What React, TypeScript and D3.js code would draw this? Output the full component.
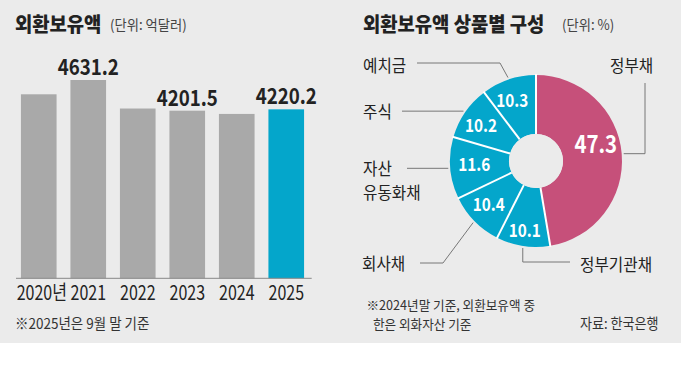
import React from 'react';
import * as d3 from 'd3';

// ---- Data ----
const years = ['2020', '2021', '2022', '2023', '2024', '2025'];
const reserves = [4431.0, 4631.2, 4231.6, 4201.5, 4156.0, 4220.2];
const barLabels: (string | null)[] = [null, '4631.2', null, '4201.5', null, '4220.2'];
const highlightYear = '2025';

const categories = ['정부채', '정부기관채', '회사채', '자산유동화채', '주식', '예치금'];
const shares = [47.3, 10.1, 10.4, 11.6, 10.2, 10.3];
const shareLabels = ['47.3', '10.1', '10.4', '11.6', '10.2', '10.3'];
const categoryLines = [['정부채'], ['정부기관채'], ['회사채'], ['자산', '유동화채'], ['주식'], ['예치금']];

const FONT = "'Noto Sans CJK KR', 'Noto Sans', sans-serif";
const BG = '#ebebeb';
const GRAY_BAR = '#a9a9a9';
const TEAL = '#04a6cb';
const PINK = '#c6507a';
const TEXT = '#222';
const LINE = '#777';

type TProps = {
  x: number; y: number; sx?: number; anchor?: string; size: number;
  weight?: number; fill?: string; children: React.ReactNode;
};
function T({ x, y, sx = 1, anchor = 'start', size, weight = 400, fill = TEXT, children }: TProps) {
  return (
    <text
      transform={`translate(${x},${y}) scale(${sx},1)`}
      textAnchor={anchor as any}
      fontSize={size}
      fontWeight={weight}
      fill={fill}
      fontFamily={FONT}
    >
      {children}
    </text>
  );
}

// label layout for the donut (text positions & leader bends)
const catLayout = [
  { tx: 610, ty: 72, path: (s: number[]) => [[s[0], s[1]], [645, s[1]], [645, 83]] },
  { tx: 580, ty: 271, path: (s: number[]) => [[s[0], s[1]], [s[0], 262], [570, 262]] },
  { tx: 362, ty: 270, path: (s: number[]) => [[s[0], s[1]], [443, 263], [420, 263]] },
  { tx: 363, ty: 175, path: (s: number[]) => [[s[0], s[1]], [407, s[1]]] },
  { tx: 363, ty: 118, path: (s: number[]) => [[s[0], s[1]], [402, s[1]]] },
  { tx: 363, ty: 72, path: (s: number[]) => [[s[0], s[1]], [500, 63], [417, 63]] },
];
const labelNudge = [[-2, -12], [-2, 8], [-3, 0], [0, -2], [-4, 0], [-4, -2]];

export default function App() {
  // ---- Bar chart ----
  const x = d3.scaleBand<string>().domain(years).range([14, 311]).paddingInner(0.28).paddingOuter(0.14);
  const y = d3.scaleLinear().domain([1854, 4631.2]).range([278.3, 80]);
  const baseY = y(1854);

  // ---- Donut ----
  const cx = 536, cy = 161;
  const R = 86, r0 = 27;
  const pie = d3.pie<number>().sort(null).value((d) => d);
  const arcs = pie(shares);
  const arc = d3.arc<d3.PieArcDatum<number>>().innerRadius(r0).outerRadius(R);
  const labelArc = d3.arc<d3.PieArcDatum<number>>().innerRadius(62).outerRadius(62);
  const leaderArc = d3.arc<d3.PieArcDatum<number>>().innerRadius(88).outerRadius(88);
  const line = d3.line();

  return (
    <svg width={681} height={382} style={{ position: 'absolute', left: 0, top: 0 }}>
      <rect x={0} y={0} width={681} height={382} fill="#fff" />
      <rect x={0} y={0} width={681} height={343} fill={BG} />

      {/* Left title */}
      <T x={15} y={32} size={20} weight={900} sx={0.94}>외환보유액</T>
      <T x={110} y={30} size={14} sx={0.95} fill="#444">(단위: 억달러)</T>

      {/* Bars */}
      {years.map((yr, i) => (
        <rect
          key={yr}
          x={x(yr)}
          y={y(reserves[i])}
          width={x.bandwidth()}
          height={baseY - y(reserves[i])}
          fill={yr === highlightYear ? TEAL : GRAY_BAR}
        />
      ))}
      {years.map((yr, i) =>
        barLabels[i] ? (
          <T key={'l' + yr} x={x(yr)! + x.bandwidth() / 2} y={y(reserves[i]) - 5} size={22} weight={700} sx={0.85} anchor="middle">
            {barLabels[i]}
          </T>
        ) : null
      )}
      <line x1={16} x2={311.7} y1={baseY} y2={baseY} stroke="#888" strokeWidth={1} />
      {years.map((yr, i) => (
        <T key={'t' + yr} x={x(yr)! + x.bandwidth() / 2 + (i === 0 ? 3 : 0)} y={300} size={20} sx={0.8} anchor="middle">
          {i === 0 ? `${yr}년` : yr}
        </T>
      ))}
      <T x={15} y={329} size={15} sx={0.9} fill="#333">※2025년은 9월 말 기준</T>

      {/* Right title */}
      <T x={363} y={32} size={20} weight={900} sx={0.94}>외환보유액 상품별 구성</T>
      <T x={562} y={30} size={14} sx={0.95} fill="#444">(단위: %)</T>

      {/* Donut */}
      <g transform={`translate(${cx},${cy})`}>
        {arcs.map((a, i) => (
          <path key={'a' + i} d={arc(a)!} fill={i === 0 ? PINK : TEAL} />
        ))}
        {arcs.map((a, i) => {
          const ang = a.startAngle;
          return (
            <line
              key={'s' + i}
              x1={r0 * Math.sin(ang)}
              y1={-r0 * Math.cos(ang)}
              x2={(R + 1) * Math.sin(ang)}
              y2={-(R + 1) * Math.cos(ang)}
              stroke="#fff"
              strokeWidth={2}
            />
          );
        })}
        <circle r={r0} fill={BG} />
        {arcs.map((a, i) => {
          const [lx, ly] = labelArc.centroid(a);
          return (
            <T key={'v' + i} x={lx + labelNudge[i][0]} y={ly + labelNudge[i][1] + (i === 0 ? 9 : 6.5)} size={i === 0 ? 24 : 18} weight={700} sx={0.85} anchor="middle" fill="#fff">
              {shareLabels[i]}
            </T>
          );
        })}
      </g>

      {/* Leaders & category labels */}
      {arcs.map((a, i) => {
        const [sx, sy] = leaderArc.centroid(a);
        const pts = catLayout[i].path([cx + sx, cy + sy]) as [number, number][];
        return <path key={'ld' + i} d={line(pts)!} fill="none" stroke={LINE} strokeWidth={1} />;
      })}
      {categories.map((c, i) => (
        <g key={'c' + c}>
          {categoryLines[i].map((ln, j) => (
            <T key={ln} x={catLayout[i].tx} y={catLayout[i].ty + j * 23.5} size={16.5} sx={0.95}>
              {ln}
            </T>
          ))}
        </g>
      ))}

      {/* Right footnotes */}
      <T x={366.5} y={310} size={13} sx={0.97} fill="#333">※2024년말 기준, 외환보유액 중</T>
      <T x={373} y={329} size={13} sx={0.97} fill="#333">한은 외화자산 기준</T>
      <T x={658.5} y={329} size={14.5} sx={0.9} anchor="end" fill="#333">자료: 한국은행</T>
    </svg>
  );
}
